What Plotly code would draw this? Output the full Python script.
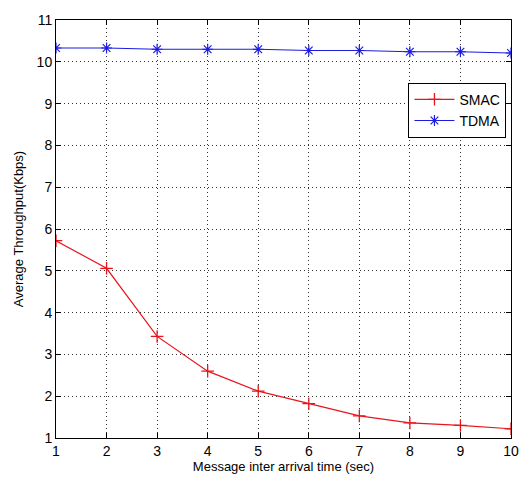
import plotly.graph_objects as go

x_vals = [1, 2, 3, 4, 5, 6, 7, 8, 9, 10]
smac = [5.72, 5.06, 3.43, 2.60, 2.12, 1.82, 1.53, 1.36, 1.30, 1.22]
tdma = [10.33, 10.33, 10.30, 10.30, 10.30, 10.27, 10.27, 10.24, 10.24, 10.21]
x_ticks = [1, 2, 3, 4, 5, 6, 7, 8, 9, 10]
y_ticks = [1, 2, 3, 4, 5, 6, 7, 8, 9, 10, 11]

FONT = "Liberation Sans Narrow, Liberation Sans, Arial"

fig = go.Figure()
fig.add_trace(go.Scatter(
    x=x_vals, y=smac, name="SMAC", mode="lines+markers",
    line=dict(color="#e8141c", width=1.2),
    marker=dict(symbol="cross-thin-open", size=9, line=dict(color="#e8141c", width=1.3)),
))
fig.add_trace(go.Scatter(
    x=x_vals, y=tdma, name="TDMA", mode="lines+markers",
    line=dict(color="#1c1ce0", width=1.2),
    marker=dict(symbol="asterisk-open", size=9, line=dict(color="#1c1ce0", width=1.2)),
))

axis_common = dict(
    showline=True, linecolor="black", linewidth=1, mirror="ticks",
    ticks="inside", ticklen=5, tickcolor="black",
    showgrid=True, gridcolor="#333333", gridwidth=1, griddash="1px,3px",
    zeroline=False, tickfont=dict(family=FONT, size=14, color="black"),
)

fig.update_layout(
    width=531, height=486,
    margin=dict(l=56, r=17, t=14, b=48),
    paper_bgcolor="white", plot_bgcolor="white",
    font=dict(family=FONT, color="black"),
    xaxis=dict(range=[1, 10], tickvals=x_ticks,
               title=dict(text="Message inter arrival time (sec)", font=dict(family=FONT, size=13), standoff=4),
               **axis_common),
    yaxis=dict(range=[1, 11], tickvals=y_ticks,
               title=dict(text="Average Throughput(Kbps)", font=dict(family=FONT, size=13), standoff=10),
               **axis_common),
    legend=dict(x=0.99, y=0.85, xanchor="right", yanchor="top",
                bordercolor="black", borderwidth=1, bgcolor="white",
                font=dict(family=FONT, size=14, color="black"),
                tracegroupgap=0, itemwidth=40),
    showlegend=True,
)

fig.write_html("out.html")
